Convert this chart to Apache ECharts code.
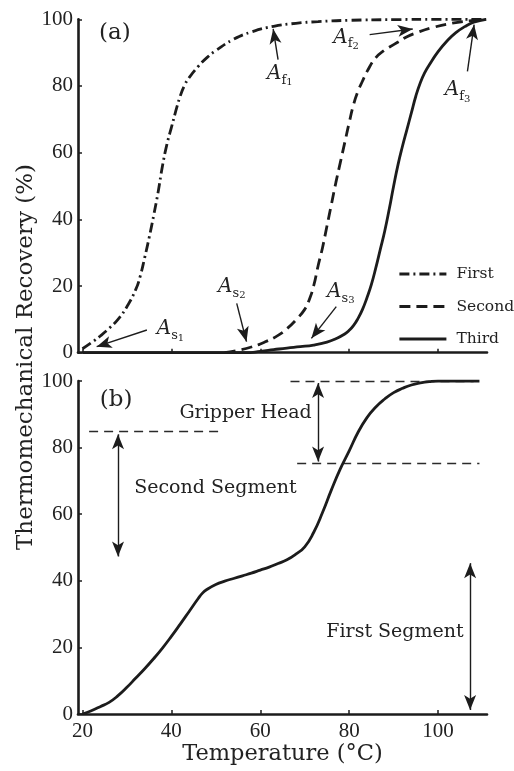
<!DOCTYPE html>
<html><head><meta charset="utf-8">
<script src="https://cdn.jsdelivr.net/npm/echarts@6/dist/echarts.min.js"></script>
<style>html,body{margin:0;padding:0;background:#fff}#c{width:514px;height:771px}</style>
</head><body><div id="c"></div>
<script>
// ---------- data ----------
const firstT  = [20, 22, 24, 26, 28, 30, 32, 33, 34, 35, 36, 37, 38, 39, 40, 41, 42, 43, 44, 46, 48, 50, 54, 58, 63, 68, 73, 80, 90, 100, 110.8];
const firstR  = [1.2, 3, 5, 7.3, 10, 13.8, 19, 23, 28.5, 34.5, 41, 48, 56, 62.5, 67.5, 72.5, 77, 80.3, 82.5, 85.8, 88.5, 90.6, 94, 96.2, 97.9, 98.8, 99.3, 99.7, 99.9, 100, 100];
const secondT = [52, 55, 58, 61, 64, 66, 68, 70, 71, 72, 73, 74, 75, 76, 77, 78, 79, 80, 81, 82, 83, 84, 86, 88, 89, 91, 93, 95, 99, 103, 107, 110.8];
const secondR = [0, 0.7, 1.7, 3.2, 5.2, 7.2, 9.8, 13, 15.8, 20, 26, 31.5, 38, 44.5, 51, 57, 63, 69, 74.5, 78.5, 81.5, 84.3, 88.5, 90.8, 91.6, 93.2, 94.8, 95.9, 97.6, 98.8, 99.5, 100];
const thirdT  = [20, 40, 57, 60, 63, 66, 69, 72, 75, 77, 79, 80, 81, 82, 83, 84, 85, 86, 87, 88, 89, 90, 91, 92, 93, 94, 95, 96, 97, 98, 100, 102, 104, 106, 108, 110.8];
const thirdR  = [0, 0, 0, 0.4, 0.9, 1.4, 1.8, 2.3, 3.2, 4.2, 5.6, 6.7, 8.2, 10.3, 13, 16.5, 20.5, 25.5, 31, 36.5, 43, 50, 56.5, 62, 67, 72, 77, 81, 84, 86.3, 90.3, 93.5, 96, 97.8, 99.1, 100];
const bottomT = [20, 22, 24, 26, 28, 30, 32, 34, 36, 38, 40, 42, 44, 46, 47, 48, 50, 52, 54, 56, 58, 60, 62, 64, 66, 68, 70, 72, 74, 76, 78, 80, 82, 84, 86, 88, 90, 92, 94, 96, 98, 100, 104, 109.3];
const bottomR = [0, 1, 2.2, 3.5, 5.5, 8, 10.8, 13.6, 16.6, 19.8, 23.3, 27, 30.8, 34.6, 36.3, 37.4, 38.9, 39.9, 40.7, 41.5, 42.3, 43.2, 44.1, 45.2, 46.3, 48, 50.2, 54.5, 60.5, 67.3, 73.6, 79, 84.6, 89, 92.2, 94.6, 96.5, 97.8, 98.8, 99.4, 99.8, 100, 100, 100];
const seriesNames = ['First', 'Second', 'Third'];
const xTicks = [20, 40, 60, 80, 100];

// ---------- annotations (data coordinates) ----------
const topLabelKeys  = [['s', '1'], ['s', '2'], ['s', '3'], ['f', '1'], ['f', '2'], ['f', '3']];
const topLabelPos   = [[36.6, 7.1], [50.4, 19.8], [74.9, 18.3], [61.4, 83.7], [76.3, 94.6], [101.4, 78.8]];
const topArrowTail  = [[34.5, 6.8], [54.7, 14.8], [77.1, 13.8], [64, 87.9], [84.6, 95.4], [106.6, 84.4]];
const topArrowHead  = [[23.2, 1.8], [56.9, 3.3], [71.5, 4.3], [62.9, 97.1], [94.3, 97.1], [108.1, 98.4]];
const guideY  = [84.8, 46.3, 100, 75.2];
const guideX0 = [21.5, 21.5, 66.8, 68.3];
const guideX1 = [51.7, 112.3, 108, 109.3];
const spanX  = [73, 28, 107.2];
const spanY0 = [99.4, 84, 45.3];
const spanY1 = [75.8, 47.3, 1.2];
const bottomTexts   = ['Gripper Head', 'Second Segment', 'First Segment'];
const bottomTextPos = [[56.7, 90.3], [49.9, 67.8], [90.3, 24.7]];
const panelTags   = ['(a)', '(b)'];
const panelTagPos = [[23.6, 95.9], [23.8, 94.3]];

// ---------- styles ----------
const INK = '#1c1c1c';
const TXT = '#222';
const WORD = 'DejaVu Serif';
const NUM = 'Liberation Serif';
const pairs = (xs, ys) => xs.map((x, i) => [x, ys[i]]);

const AFS = 20, SFS = 13, DFS = 10;
const richA = {
  A: { fontFamily: WORD, fontStyle: 'italic', fontSize: AFS, color: TXT, verticalAlign: 'top' },
  s: { fontFamily: WORD, fontSize: SFS, color: TXT, verticalAlign: 'top', padding: [10, 0, 0, 0] },
  d: { fontFamily: WORD, fontSize: DFS, color: TXT, verticalAlign: 'top', padding: [14, 0, 0, 0] }
};

function axisX(grid, showLabel) {
  return {
    type: 'value', gridIndex: grid, min: 19, max: 111,
    splitLine: { show: false },
    axisLine: { show: true, onZero: false, lineStyle: { color: INK, width: 2.6 } },
    axisTick: { show: true, inside: true, length: 4, customValues: xTicks, lineStyle: { color: INK, width: 1.5 } },
    axisLabel: { show: showLabel, customValues: xTicks, margin: 7, fontFamily: NUM, fontSize: 21, color: TXT },
    name: showLabel ? 'Temperature (°C)' : '',
    nameLocation: 'middle', nameGap: 26,
    nameTextStyle: { fontFamily: WORD, fontSize: 22.5, color: TXT }
  };
}
function axisY(grid) {
  return {
    type: 'value', gridIndex: grid, min: 0, max: 100, interval: 20,
    splitLine: { show: false },
    axisLine: { show: true, onZero: false, lineStyle: { color: INK, width: 2.6 } },
    axisTick: { show: true, inside: true, length: 4, lineStyle: { color: INK, width: 1.5 } },
    axisLabel: { margin: 5, fontFamily: NUM, fontSize: 21, color: TXT }
  };
}
function curve(name, xs, ys, type, grid) {
  return {
    name: name, type: 'line', xAxisIndex: grid, yAxisIndex: grid,
    data: pairs(xs, ys), symbol: 'none', showSymbol: false,
    smooth: 0.5, z: 5,
    lineStyle: { color: INK, width: 2.8, type: type, cap: 'butt' },
    itemStyle: { color: INK },
    emphasis: { disabled: true }
  };
}
const arrowSize = [9, 15];

const topLabelData = topLabelPos.map((p, i) => ({
  value: p,
  label: { formatter: '{A|A}{s|' + topLabelKeys[i][0] + '}{d|' + topLabelKeys[i][1] + '}' }
}));
const topArrows = topArrowTail.map((t, i) => [
  { coord: t, symbol: 'none' },
  { coord: topArrowHead[i], symbol: 'arrow', symbolSize: arrowSize }
]);
const guides = guideY.map((y, i) => [
  { coord: [guideX0[i], y], symbol: 'none', lineStyle: { type: [9, 6], width: 1.4, color: '#2a2a2a' } },
  { coord: [guideX1[i], y], symbol: 'none' }
]);
const spans = spanX.map((x, i) => [
  { coord: [x, spanY0[i]], symbol: 'arrow', symbolSize: arrowSize },
  { coord: [x, spanY1[i]], symbol: 'arrow', symbolSize: arrowSize }
]);

const option = {
  animation: false,
  backgroundColor: '#fff',
  grid: [
    { left: 78, right: 27, top: 19.3, height: 333.4 },
    { left: 78, right: 27, top: 381, height: 333 }
  ],
  xAxis: [axisX(0, false), axisX(1, true)],
  yAxis: [axisY(0), axisY(1)],
  legend: {
    data: seriesNames, orient: 'vertical', left: 398, top: 266,
    itemWidth: 47, itemHeight: 14, itemGap: 16.5, padding: 0,
    selectedMode: false,
    itemStyle: { color: 'rgba(0,0,0,0)', borderWidth: 0, opacity: 0 },
    lineStyle: { width: 2.8 },
    textStyle: { fontFamily: WORD, fontSize: 15.5, color: TXT, padding: [0, 0, 0, 5] }
  },
  graphic: [{
    type: 'text', x: 26, y: 357, rotation: Math.PI / 2,
    style: {
      text: 'Thermomechanical Recovery (%)', fill: TXT,
      font: '23px "DejaVu Serif"', textAlign: 'center', textVerticalAlign: 'middle',
      align: 'center', verticalAlign: 'middle'
    }
  }],
  series: [
    curve(seriesNames[0], firstT, firstR, [10, 4, 2, 4], 0),
    curve(seriesNames[1], secondT, secondR, [11, 6], 0),
    curve(seriesNames[2], thirdT, thirdR, 'solid', 0),
    curve('Recovery', bottomT, bottomR, 'solid', 1),
    {
      type: 'scatter', xAxisIndex: 0, yAxisIndex: 0, silent: true,
      symbolSize: 1, itemStyle: { color: 'rgba(0,0,0,0)', opacity: 1 },
      label: { show: true, position: 'right', distance: 0, offset: [0, 2], rich: richA, color: TXT },
      data: topLabelData.concat([{
        value: panelTagPos[0],
        label: { formatter: panelTags[0], fontFamily: WORD, fontSize: 23, color: TXT, offset: [0, 0] }
      }]),
      markLine: {
        silent: true, animation: false, symbolSize: arrowSize,
        label: { show: false },
        lineStyle: { color: INK, width: 1.4, type: 'solid' },
        itemStyle: { color: INK },
        emphasis: { disabled: true },
        data: topArrows
      }
    },
    {
      type: 'scatter', xAxisIndex: 1, yAxisIndex: 1, silent: true,
      symbolSize: 1, itemStyle: { color: 'rgba(0,0,0,0)', opacity: 1 },
      label: { show: true, position: 'inside', fontFamily: WORD, fontSize: 19, color: TXT },
      data: bottomTextPos.map((p, i) => ({ value: p, label: { formatter: bottomTexts[i] } })).concat([{
        value: panelTagPos[1],
        label: { formatter: panelTags[1], position: 'right', distance: 0, fontSize: 23 }
      }]),
      markLine: {
        silent: true, animation: false, symbolSize: arrowSize,
        label: { show: false },
        lineStyle: { color: INK, width: 1.4, type: 'solid' },
        itemStyle: { color: INK },
        emphasis: { disabled: true },
        data: guides.concat(spans)
      }
    }
  ]
};
const chart = echarts.init(document.getElementById('c'));
chart.setOption(option);
</script>
</body></html>
